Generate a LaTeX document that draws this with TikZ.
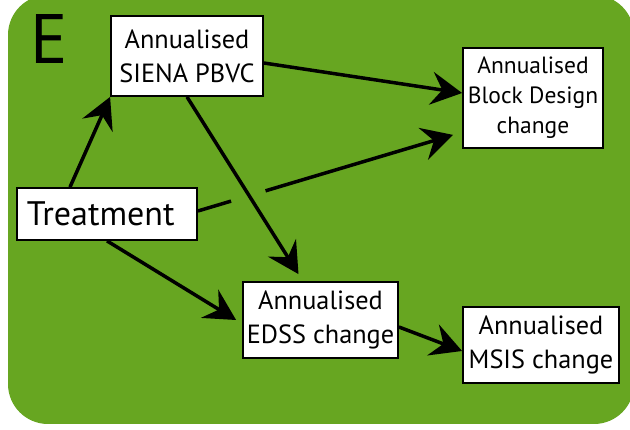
\documentclass[tikz,border=0pt]{standalone}
\usepackage{fontspec}
\setmainfont{PT Sans}
\usetikzlibrary{arrows.meta,calc}
\definecolor{panelgreen}{RGB}{103,166,33}
\tikzset{
  box/.style={draw, line width=1.8pt, fill=white, align=center, inner sep=2pt,
    font=\fontsize{26.3}{34}\selectfont},
  link/.style={line width=3.5pt, -{Stealth[length=31pt,width=33pt,inset=11pt]}},
}
\begin{document}
\begin{tikzpicture}[x=1pt,y=-1pt]
\useasboundingbox (0,0) rectangle (630,430);
\fill[panelgreen, rounded corners=40pt] (8,-5) rectangle (634,424);
\node (lbl) at (30,64) [anchor=base west, inner sep=0pt, font=\fontsize{70}{70}\selectfont] {E};

\node (siena) at (187,56) [box, minimum width=152pt, minimum height=80pt] {Annualised\\SIENA PBVC};
\node (block) at (533,98) [box, minimum width=140pt, minimum height=100pt, font=\fontsize{23.5}{30}\selectfont] {Annualised\\Block Design\\change};
\node (treat) at (107,214) [box, minimum width=180pt, minimum height=52pt, text width=160pt, align=left, font=\fontsize{34}{38}\selectfont] {Treatment};
\node (edss) at (320.5,320) [box, minimum width=155pt, minimum height=76pt] {Annualised\\EDSS change};
\node (msis) at (541,345) [box, minimum width=156pt, minimum height=76pt] {Annualised\\MSIS change};

% treatment -> block design, broken where it crosses
\coordinate (tbstart) at ([yshift=3pt]treat.east);
\coordinate (tbend) at ([xshift=-9pt,yshift=14pt]block.south west);
\coordinate (gapa) at ($(tbstart)!0.13!(tbend)$);
\coordinate (gapb) at ($(tbstart)!0.265!(tbend)$);
\draw[line width=3.5pt] (tbstart) to (gapa);
\draw[link] (gapb) to (tbend);

\draw[link]
([xshift=-37pt]treat.north) to (siena.south west);
\draw[link]
([yshift=-7pt]siena.east) to ([yshift=5pt]block.west);
\draw[link]
(siena.south) to ([xshift=-22pt,yshift=7pt]edss.north);
\draw[link]
(treat.south) to ([xshift=-6pt]edss.west);
\draw[link]
([yshift=-7pt]edss.east) to ([yshift=-6pt]msis.west);
\end{tikzpicture}
\end{document}
